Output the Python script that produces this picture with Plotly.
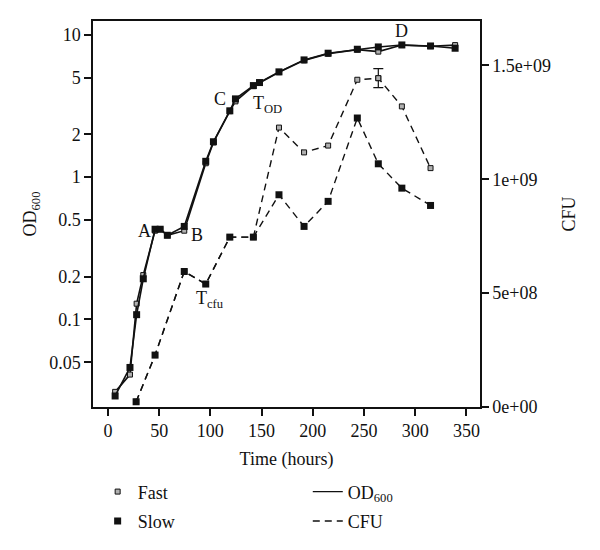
import plotly.graph_objects as go

# ---- data ----
t_od = [7, 21.5, 28, 34.5, 46, 51, 58, 74.5, 95.5, 103, 119, 124.5, 142, 148,
        167, 191.5, 215, 243.5, 264, 287, 315, 339]
od_slow = [0.029, 0.046, 0.108, 0.193, 0.43, 0.43, 0.39, 0.45, 1.29, 1.77, 2.92,
           3.54, 4.39, 4.61, 5.48, 6.65, 7.41, 7.90, 8.2, 8.47, 8.33, 8.03]
od_fast = [0.031, 0.041, 0.129, 0.205, 0.42, 0.43, 0.39, 0.42, 1.25, 1.75, 2.9,
           3.4, 4.35, 4.6, 5.45, 6.6, 7.35, 7.85, 7.6, 8.45, 8.3, 8.45]

t_cfu = [27.5, 46, 74.5, 95.5, 119, 142, 167, 191.5, 215, 243.5, 264, 287, 315]
cfu_slow = [2.3e7, 2.28e8, 5.95e8, 5.40e8, 7.46e8, 7.46e8, 9.32e8, 7.93e8,
            9.03e8, 1.269e9, 1.068e9, 9.61e8, 8.85e8]
cfu_fast = [2.3e7, 2.28e8, 5.95e8, 5.40e8, 7.46e8, 7.46e8, 1.227e9, 1.118e9,
            1.148e9, 1.437e9, 1.444e9, 1.32e9, 1.049e9]
err_t = [264]
err_val = [1.444e9]
err_size = [4.2e7]

x_ticks = [0, 50, 100, 150, 200, 250, 300, 350]
od_ticks = [0.05, 0.1, 0.2, 0.5, 1, 2, 5, 10]
od_tick_text = ["0.05", "0.1", "0.2", "0.5", "1", "2", "5", "10"]
cfu_ticks = [0, 5e8, 1e9, 1.5e9]
cfu_tick_text = ["0e+00", "5e+08", "1e+09", "1.5e+09"]

FONT = "Liberation Serif"
FS = 18
BLACK = "#111111"
fast_marker = dict(symbol="square", size=5, color="#b0b0b0", line=dict(color=BLACK, width=1))
slow_marker = dict(symbol="square", size=7, color=BLACK, line=dict(color=BLACK, width=0))
DASH = "7px,5px"

fig = go.Figure()

# CFU dashed lines
fig.add_trace(go.Scatter(x=t_cfu, y=cfu_fast, yaxis="y2", mode="lines+markers",
                         line=dict(color=BLACK, width=1.4, dash=DASH),
                         marker=fast_marker, showlegend=False))
fig.add_trace(go.Scatter(x=err_t, y=err_val, yaxis="y2", mode="markers",
                         marker=fast_marker, showlegend=False,
                         error_y=dict(type="data", array=err_size, color=BLACK,
                                      thickness=1.2, width=5)))
fig.add_trace(go.Scatter(x=t_cfu, y=cfu_slow, yaxis="y2", mode="lines+markers",
                         line=dict(color=BLACK, width=1.4, dash=DASH),
                         marker=slow_marker, showlegend=False))
# OD solid lines
fig.add_trace(go.Scatter(x=t_od, y=od_fast, mode="lines+markers",
                         line=dict(color=BLACK, width=1.6),
                         marker=fast_marker, showlegend=False))
fig.add_trace(go.Scatter(x=t_od, y=od_slow, mode="lines+markers",
                         line=dict(color=BLACK, width=1.6),
                         marker=slow_marker, showlegend=False))

# legend entries
fig.add_trace(go.Scatter(x=[None], y=[None], mode="markers", marker=fast_marker,
                         name="Fast", legend="legend", legendgroup="g1"))
fig.add_trace(go.Scatter(x=[None], y=[None], mode="markers", marker=slow_marker,
                         name="Slow", legend="legend", legendgroup="g2"))
fig.add_trace(go.Scatter(x=[None], y=[None], mode="lines",
                         line=dict(color=BLACK, width=1.4),
                         name="OD<sub>600</sub>", legend="legend2", legendgroup="g3"))
fig.add_trace(go.Scatter(x=[None], y=[None], mode="lines",
                         line=dict(color=BLACK, width=1.4, dash=DASH),
                         name="CFU", legend="legend2", legendgroup="g4"))

ann_font = dict(family=FONT, size=FS, color=BLACK)
labels = [("A", 35.2, -0.381), ("B", 86.6, -0.405), ("C", 109.4, 0.547),
          ("T<sub>OD</sub>", 156, 0.51), ("D", 286.7, 1.028),
          ("T<sub>cfu</sub>", 99.5, -0.86)]
for txt, ax, ay in labels:
    fig.add_annotation(x=ax, y=ay, xref="x", yref="y", text=txt, showarrow=False,
                       font=ann_font, xanchor="center", yanchor="middle")

axis_common = dict(showline=True, linecolor=BLACK, linewidth=1.5, ticks="outside",
                   ticklen=7, tickwidth=1.5, tickcolor=BLACK, showgrid=False,
                   zeroline=False, tickfont=dict(family=FONT, size=FS, color=BLACK))

fig.update_layout(
    width=600, height=550,
    margin=dict(l=85, r=128, t=13, b=151, autoexpand=False),
    plot_bgcolor="white", paper_bgcolor="white",
    font=dict(family=FONT, size=FS, color=BLACK),
    xaxis=dict(range=[-14.6, 363.3], tickvals=x_ticks, mirror=True,
               title=dict(text="Time (hours)", standoff=12,
                          font=dict(family=FONT, size=FS)),
               **axis_common),
    yaxis=dict(type="log", range=[-1.615, 1.096], tickvals=od_ticks,
               ticktext=od_tick_text, mirror=True,
               title=dict(text="OD<sub>600</sub>", standoff=8,
                          font=dict(family=FONT, size=FS)),
               **axis_common),
    yaxis2=dict(overlaying="y", side="right", range=[0, 1.695e9],
                tickvals=cfu_ticks, ticktext=cfu_tick_text,
                title=dict(text="CFU", standoff=12, font=dict(family=FONT, size=FS)),
                **axis_common),
    legend=dict(x=0.012, y=-0.172, xanchor="left", yanchor="top",
                orientation="v", bgcolor="rgba(0,0,0,0)",
                font=dict(family=FONT, size=FS), tracegroupgap=3),
    legend2=dict(x=0.555, y=-0.172, xanchor="left", yanchor="top",
                 orientation="v", bgcolor="rgba(0,0,0,0)",
                 font=dict(family=FONT, size=FS), tracegroupgap=3),
)

fig.write_html("out.html")
